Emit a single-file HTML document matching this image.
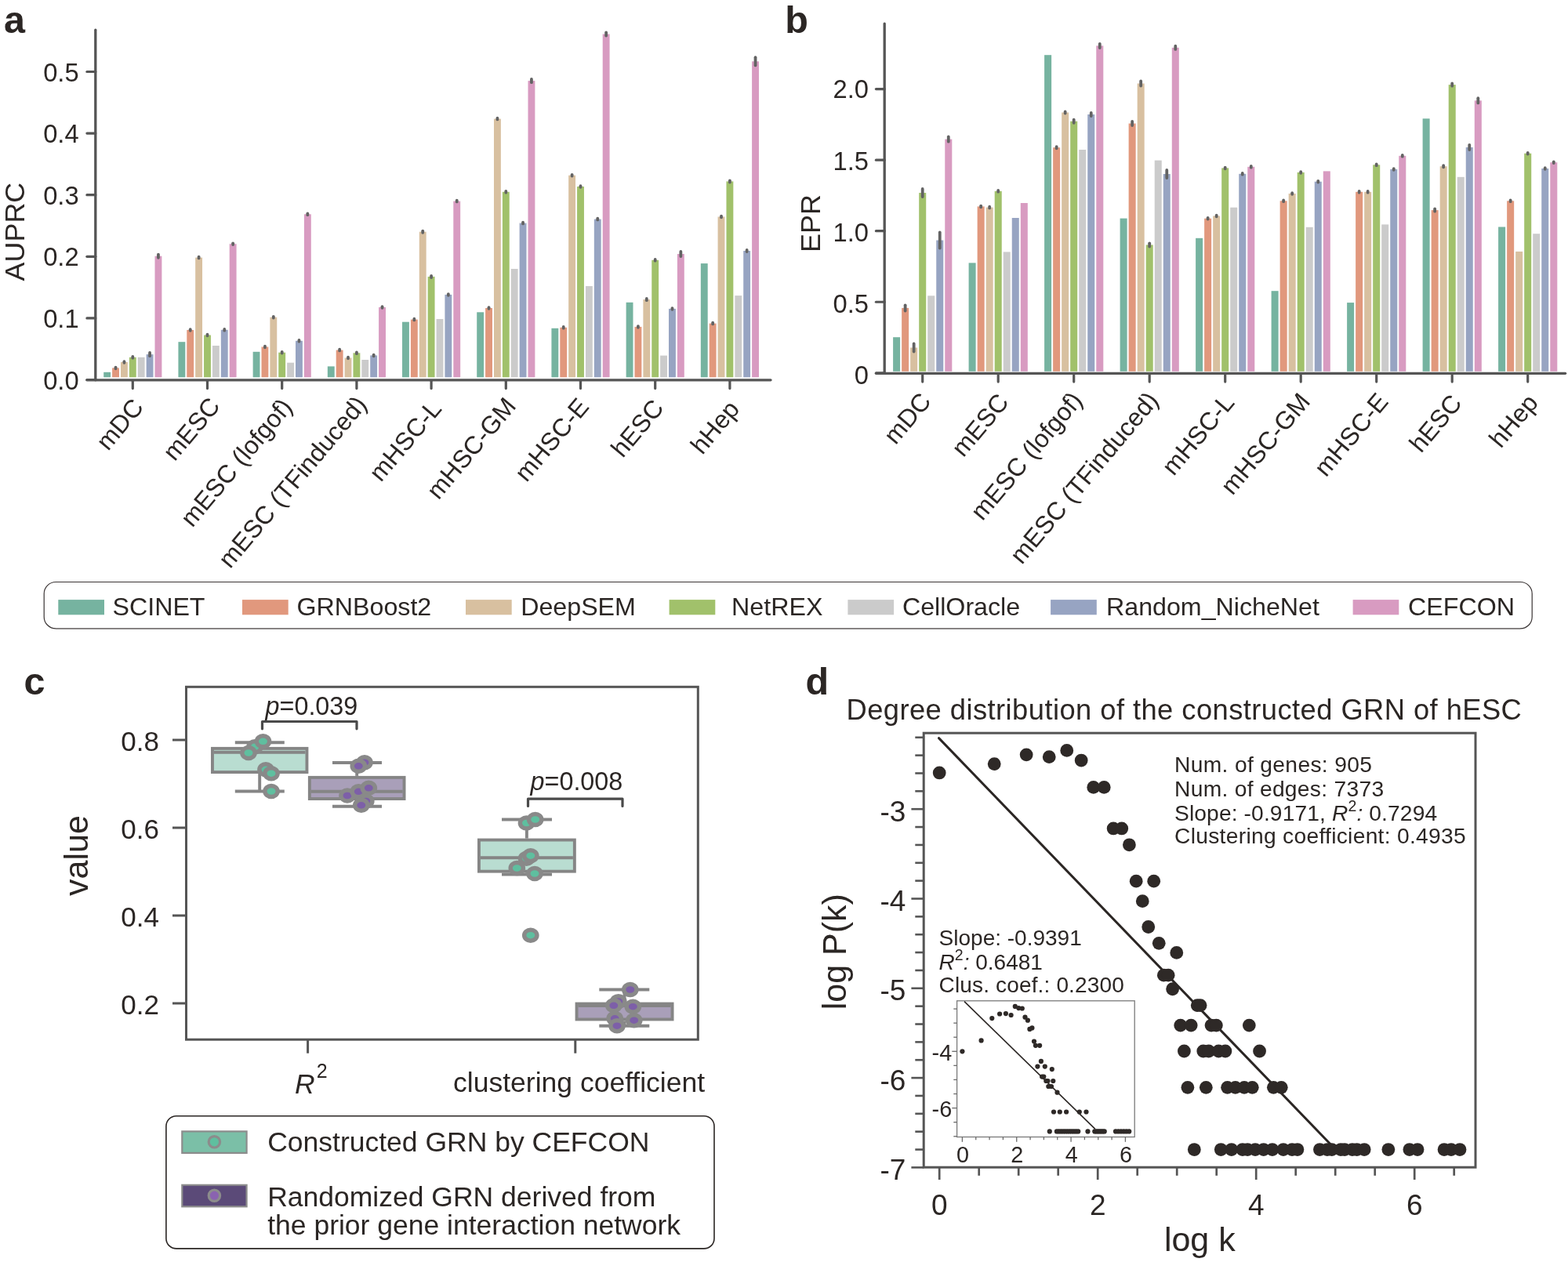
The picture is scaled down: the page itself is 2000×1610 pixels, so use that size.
<!DOCTYPE html>
<html><head><meta charset="utf-8"><title>Figure</title>
<style>html,body{margin:0;padding:0;background:#ffffff;} svg{display:block;}</style>
</head><body>
<svg width="2000" height="1610" viewBox="0 0 2000 1610" style="font-family:'Liberation Sans', Arial, Helvetica, sans-serif;">
<rect x="0" y="0" width="2000" height="1610" fill="#ffffff"/>
<rect x="132.22" y="474.8" width="8.88" height="6.5" fill="#76b3a0"/>
<rect x="143.1" y="469.4" width="8.88" height="11.9" fill="#e1987d"/>
<rect x="153.98" y="462" width="8.88" height="19.3" fill="#d8c0a0"/>
<rect x="164.86" y="455.8" width="8.88" height="25.5" fill="#a1c16b"/>
<rect x="175.74" y="455.8" width="8.88" height="25.5" fill="#cbcbcb"/>
<rect x="186.62" y="452.1" width="8.88" height="29.2" fill="#97a4c2"/>
<rect x="197.5" y="326.7" width="8.88" height="154.6" fill="#d89bc1"/>
<rect x="227.42" y="436.2" width="8.88" height="45.1" fill="#76b3a0"/>
<rect x="238.3" y="421" width="8.88" height="60.3" fill="#e1987d"/>
<rect x="249.18" y="328.6" width="8.88" height="152.7" fill="#d8c0a0"/>
<rect x="260.06" y="427.5" width="8.88" height="53.8" fill="#a1c16b"/>
<rect x="270.94" y="441" width="8.88" height="40.3" fill="#cbcbcb"/>
<rect x="281.82" y="420.8" width="8.88" height="60.5" fill="#97a4c2"/>
<rect x="292.7" y="311.2" width="8.88" height="170.1" fill="#d89bc1"/>
<rect x="322.62" y="448.8" width="8.88" height="32.5" fill="#76b3a0"/>
<rect x="333.5" y="442.5" width="8.88" height="38.8" fill="#e1987d"/>
<rect x="344.38" y="404.7" width="8.88" height="76.6" fill="#d8c0a0"/>
<rect x="355.26" y="449.7" width="8.88" height="31.6" fill="#a1c16b"/>
<rect x="366.14" y="462.7" width="8.88" height="18.6" fill="#cbcbcb"/>
<rect x="377.02" y="434.8" width="8.88" height="46.5" fill="#97a4c2"/>
<rect x="387.9" y="273.3" width="8.88" height="208" fill="#d89bc1"/>
<rect x="417.82" y="467.4" width="8.88" height="13.9" fill="#76b3a0"/>
<rect x="428.7" y="446.6" width="8.88" height="34.7" fill="#e1987d"/>
<rect x="439.58" y="456.5" width="8.88" height="24.8" fill="#d8c0a0"/>
<rect x="450.46" y="450.3" width="8.88" height="31" fill="#a1c16b"/>
<rect x="461.34" y="459" width="8.88" height="22.3" fill="#cbcbcb"/>
<rect x="472.22" y="453.4" width="8.88" height="27.9" fill="#97a4c2"/>
<rect x="483.1" y="392" width="8.88" height="89.3" fill="#d89bc1"/>
<rect x="513.02" y="410.7" width="8.88" height="70.6" fill="#76b3a0"/>
<rect x="523.9" y="407.6" width="8.88" height="73.7" fill="#e1987d"/>
<rect x="534.78" y="295.7" width="8.88" height="185.6" fill="#d8c0a0"/>
<rect x="545.66" y="352.9" width="8.88" height="128.4" fill="#a1c16b"/>
<rect x="556.54" y="407" width="8.88" height="74.3" fill="#cbcbcb"/>
<rect x="567.42" y="375.9" width="8.88" height="105.4" fill="#97a4c2"/>
<rect x="578.3" y="256.6" width="8.88" height="224.7" fill="#d89bc1"/>
<rect x="608.22" y="398.3" width="8.88" height="83" fill="#76b3a0"/>
<rect x="619.1" y="393" width="8.88" height="88.3" fill="#e1987d"/>
<rect x="629.98" y="151.6" width="8.88" height="329.7" fill="#d8c0a0"/>
<rect x="640.86" y="244.8" width="8.88" height="236.5" fill="#a1c16b"/>
<rect x="651.74" y="343" width="8.88" height="138.3" fill="#cbcbcb"/>
<rect x="662.62" y="284.6" width="8.88" height="196.7" fill="#97a4c2"/>
<rect x="673.5" y="103.1" width="8.88" height="378.2" fill="#d89bc1"/>
<rect x="703.42" y="418.8" width="8.88" height="62.5" fill="#76b3a0"/>
<rect x="714.3" y="417.8" width="8.88" height="63.5" fill="#e1987d"/>
<rect x="725.18" y="223.7" width="8.88" height="257.6" fill="#d8c0a0"/>
<rect x="736.06" y="238" width="8.88" height="243.3" fill="#a1c16b"/>
<rect x="746.94" y="365" width="8.88" height="116.3" fill="#cbcbcb"/>
<rect x="757.82" y="279.6" width="8.88" height="201.7" fill="#97a4c2"/>
<rect x="768.7" y="43.5" width="8.88" height="437.8" fill="#d89bc1"/>
<rect x="798.62" y="385.8" width="8.88" height="95.5" fill="#76b3a0"/>
<rect x="809.5" y="416.9" width="8.88" height="64.4" fill="#e1987d"/>
<rect x="820.38" y="382.1" width="8.88" height="99.2" fill="#d8c0a0"/>
<rect x="831.26" y="331.8" width="8.88" height="149.5" fill="#a1c16b"/>
<rect x="842.14" y="453.6" width="8.88" height="27.7" fill="#cbcbcb"/>
<rect x="853.02" y="393.9" width="8.88" height="87.4" fill="#97a4c2"/>
<rect x="863.9" y="324" width="8.88" height="157.3" fill="#d89bc1"/>
<rect x="893.82" y="336.1" width="8.88" height="145.2" fill="#76b3a0"/>
<rect x="904.7" y="412.6" width="8.88" height="68.7" fill="#e1987d"/>
<rect x="915.58" y="276.5" width="8.88" height="204.8" fill="#d8c0a0"/>
<rect x="926.46" y="231.4" width="8.88" height="249.9" fill="#a1c16b"/>
<rect x="937.34" y="377.1" width="8.88" height="104.2" fill="#cbcbcb"/>
<rect x="948.22" y="320" width="8.88" height="161.3" fill="#97a4c2"/>
<rect x="959.1" y="78.3" width="8.88" height="403" fill="#d89bc1"/>
<line x1="147.54" y1="468.55" x2="147.54" y2="470.25" stroke="#636363" stroke-width="3.8" stroke-linecap="round"/>
<line x1="158.42" y1="461.15" x2="158.42" y2="462.85" stroke="#636363" stroke-width="3.8" stroke-linecap="round"/>
<line x1="169.3" y1="454.95" x2="169.3" y2="456.65" stroke="#636363" stroke-width="3.8" stroke-linecap="round"/>
<line x1="191.06" y1="450" x2="191.06" y2="454.2" stroke="#636363" stroke-width="3.8" stroke-linecap="round"/>
<line x1="201.94" y1="324.6" x2="201.94" y2="328.8" stroke="#636363" stroke-width="3.8" stroke-linecap="round"/>
<line x1="242.74" y1="420.15" x2="242.74" y2="421.85" stroke="#636363" stroke-width="3.8" stroke-linecap="round"/>
<line x1="253.62" y1="327.75" x2="253.62" y2="329.45" stroke="#636363" stroke-width="3.8" stroke-linecap="round"/>
<line x1="264.5" y1="426.65" x2="264.5" y2="428.35" stroke="#636363" stroke-width="3.8" stroke-linecap="round"/>
<line x1="286.26" y1="419.95" x2="286.26" y2="421.65" stroke="#636363" stroke-width="3.8" stroke-linecap="round"/>
<line x1="297.14" y1="310.35" x2="297.14" y2="312.05" stroke="#636363" stroke-width="3.8" stroke-linecap="round"/>
<line x1="337.94" y1="441.65" x2="337.94" y2="443.35" stroke="#636363" stroke-width="3.8" stroke-linecap="round"/>
<line x1="348.82" y1="403.85" x2="348.82" y2="405.55" stroke="#636363" stroke-width="3.8" stroke-linecap="round"/>
<line x1="359.7" y1="448.85" x2="359.7" y2="450.55" stroke="#636363" stroke-width="3.8" stroke-linecap="round"/>
<line x1="381.46" y1="433.95" x2="381.46" y2="435.65" stroke="#636363" stroke-width="3.8" stroke-linecap="round"/>
<line x1="392.34" y1="272.45" x2="392.34" y2="274.15" stroke="#636363" stroke-width="3.8" stroke-linecap="round"/>
<line x1="433.14" y1="445.75" x2="433.14" y2="447.45" stroke="#636363" stroke-width="3.8" stroke-linecap="round"/>
<line x1="444.02" y1="455.65" x2="444.02" y2="457.35" stroke="#636363" stroke-width="3.8" stroke-linecap="round"/>
<line x1="454.9" y1="449.45" x2="454.9" y2="451.15" stroke="#636363" stroke-width="3.8" stroke-linecap="round"/>
<line x1="476.66" y1="452.55" x2="476.66" y2="454.25" stroke="#636363" stroke-width="3.8" stroke-linecap="round"/>
<line x1="487.54" y1="391.15" x2="487.54" y2="392.85" stroke="#636363" stroke-width="3.8" stroke-linecap="round"/>
<line x1="528.34" y1="406.75" x2="528.34" y2="408.45" stroke="#636363" stroke-width="3.8" stroke-linecap="round"/>
<line x1="539.22" y1="294.6" x2="539.22" y2="296.8" stroke="#636363" stroke-width="3.8" stroke-linecap="round"/>
<line x1="550.1" y1="351.8" x2="550.1" y2="354" stroke="#636363" stroke-width="3.8" stroke-linecap="round"/>
<line x1="571.86" y1="375.05" x2="571.86" y2="376.75" stroke="#636363" stroke-width="3.8" stroke-linecap="round"/>
<line x1="582.74" y1="255.75" x2="582.74" y2="257.45" stroke="#636363" stroke-width="3.8" stroke-linecap="round"/>
<line x1="623.54" y1="392.15" x2="623.54" y2="393.85" stroke="#636363" stroke-width="3.8" stroke-linecap="round"/>
<line x1="634.42" y1="150.75" x2="634.42" y2="152.45" stroke="#636363" stroke-width="3.8" stroke-linecap="round"/>
<line x1="645.3" y1="243.95" x2="645.3" y2="245.65" stroke="#636363" stroke-width="3.8" stroke-linecap="round"/>
<line x1="667.06" y1="283.75" x2="667.06" y2="285.45" stroke="#636363" stroke-width="3.8" stroke-linecap="round"/>
<line x1="677.94" y1="101" x2="677.94" y2="105.2" stroke="#636363" stroke-width="3.8" stroke-linecap="round"/>
<line x1="718.74" y1="416.95" x2="718.74" y2="418.65" stroke="#636363" stroke-width="3.8" stroke-linecap="round"/>
<line x1="729.62" y1="222.85" x2="729.62" y2="224.55" stroke="#636363" stroke-width="3.8" stroke-linecap="round"/>
<line x1="740.5" y1="237.15" x2="740.5" y2="238.85" stroke="#636363" stroke-width="3.8" stroke-linecap="round"/>
<line x1="762.26" y1="278.75" x2="762.26" y2="280.45" stroke="#636363" stroke-width="3.8" stroke-linecap="round"/>
<line x1="773.14" y1="41.4" x2="773.14" y2="45.6" stroke="#636363" stroke-width="3.8" stroke-linecap="round"/>
<line x1="813.94" y1="416.05" x2="813.94" y2="417.75" stroke="#636363" stroke-width="3.8" stroke-linecap="round"/>
<line x1="824.82" y1="381" x2="824.82" y2="383.2" stroke="#636363" stroke-width="3.8" stroke-linecap="round"/>
<line x1="835.7" y1="330.95" x2="835.7" y2="332.65" stroke="#636363" stroke-width="3.8" stroke-linecap="round"/>
<line x1="857.46" y1="393.05" x2="857.46" y2="394.75" stroke="#636363" stroke-width="3.8" stroke-linecap="round"/>
<line x1="868.34" y1="320.9" x2="868.34" y2="327.1" stroke="#636363" stroke-width="3.8" stroke-linecap="round"/>
<line x1="909.14" y1="411.75" x2="909.14" y2="413.45" stroke="#636363" stroke-width="3.8" stroke-linecap="round"/>
<line x1="920.02" y1="275.65" x2="920.02" y2="277.35" stroke="#636363" stroke-width="3.8" stroke-linecap="round"/>
<line x1="930.9" y1="230.3" x2="930.9" y2="232.5" stroke="#636363" stroke-width="3.8" stroke-linecap="round"/>
<line x1="952.66" y1="318.9" x2="952.66" y2="321.1" stroke="#636363" stroke-width="3.8" stroke-linecap="round"/>
<line x1="963.54" y1="73.2" x2="963.54" y2="83.4" stroke="#636363" stroke-width="3.8" stroke-linecap="round"/>
<line x1="121.8" y1="38.2" x2="121.8" y2="484.8" stroke="#555555" stroke-width="3.3" stroke-linecap="round"/>
<line x1="110.9" y1="484.8" x2="983" y2="484.8" stroke="#555555" stroke-width="3.3" stroke-linecap="round"/>
<line x1="110.9" y1="484.5" x2="121.8" y2="484.5" stroke="#555555" stroke-width="3.2" stroke-linecap="round"/>
<text x="100.6" y="496.5" text-anchor="end" style="font-size:32.7px;" fill="#2b2624">0.0</text>
<line x1="110.9" y1="405.9" x2="121.8" y2="405.9" stroke="#555555" stroke-width="3.2" stroke-linecap="round"/>
<text x="100.6" y="417.9" text-anchor="end" style="font-size:32.7px;" fill="#2b2624">0.1</text>
<line x1="110.9" y1="327.3" x2="121.8" y2="327.3" stroke="#555555" stroke-width="3.2" stroke-linecap="round"/>
<text x="100.6" y="339.3" text-anchor="end" style="font-size:32.7px;" fill="#2b2624">0.2</text>
<line x1="110.9" y1="248.7" x2="121.8" y2="248.7" stroke="#555555" stroke-width="3.2" stroke-linecap="round"/>
<text x="100.6" y="260.7" text-anchor="end" style="font-size:32.7px;" fill="#2b2624">0.3</text>
<line x1="110.9" y1="170.1" x2="121.8" y2="170.1" stroke="#555555" stroke-width="3.2" stroke-linecap="round"/>
<text x="100.6" y="182.1" text-anchor="end" style="font-size:32.7px;" fill="#2b2624">0.4</text>
<line x1="110.9" y1="91.5" x2="121.8" y2="91.5" stroke="#555555" stroke-width="3.2" stroke-linecap="round"/>
<text x="100.6" y="103.5" text-anchor="end" style="font-size:32.7px;" fill="#2b2624">0.5</text>
<line x1="169.3" y1="486.3" x2="169.3" y2="495.6" stroke="#555555" stroke-width="3.2" stroke-linecap="round"/>
<text transform="translate(184.5,520.3) rotate(-50)" text-anchor="end" style="font-size:32px;" fill="#2b2624">mDC</text>
<line x1="264.5" y1="486.3" x2="264.5" y2="495.6" stroke="#555555" stroke-width="3.2" stroke-linecap="round"/>
<text transform="translate(282.2,518.8) rotate(-50)" text-anchor="end" style="font-size:32px;" fill="#2b2624">mESC</text>
<line x1="359.7" y1="486.3" x2="359.7" y2="495.6" stroke="#555555" stroke-width="3.2" stroke-linecap="round"/>
<text transform="translate(374.3,520.1) rotate(-50)" text-anchor="end" style="font-size:32px;" fill="#2b2624">mESC (lofgof)</text>
<line x1="454.9" y1="486.3" x2="454.9" y2="495.6" stroke="#555555" stroke-width="3.2" stroke-linecap="round"/>
<text transform="translate(469.4,516.8) rotate(-50)" text-anchor="end" style="font-size:32px;" fill="#2b2624">mESC (TFinduced)</text>
<line x1="550.1" y1="486.3" x2="550.1" y2="495.6" stroke="#555555" stroke-width="3.2" stroke-linecap="round"/>
<text transform="translate(564.7,522.1) rotate(-50)" text-anchor="end" style="font-size:32px;" fill="#2b2624">mHSC-L</text>
<line x1="645.3" y1="486.3" x2="645.3" y2="495.6" stroke="#555555" stroke-width="3.2" stroke-linecap="round"/>
<text transform="translate(659.7,518.9) rotate(-50)" text-anchor="end" style="font-size:32px;" fill="#2b2624">mHSC-GM</text>
<line x1="740.5" y1="486.3" x2="740.5" y2="495.6" stroke="#555555" stroke-width="3.2" stroke-linecap="round"/>
<text transform="translate(752.7,519.6) rotate(-50)" text-anchor="end" style="font-size:32px;" fill="#2b2624">mHSC-E</text>
<line x1="835.7" y1="486.3" x2="835.7" y2="495.6" stroke="#555555" stroke-width="3.2" stroke-linecap="round"/>
<text transform="translate(848.1,521.3) rotate(-50)" text-anchor="end" style="font-size:32px;" fill="#2b2624">hESC</text>
<line x1="930.9" y1="486.3" x2="930.9" y2="495.6" stroke="#555555" stroke-width="3.2" stroke-linecap="round"/>
<text transform="translate(944.8,522.6) rotate(-50)" text-anchor="end" style="font-size:32px;" fill="#2b2624">hHep</text>
<text transform="translate(31.2,295.6) rotate(-90)" text-anchor="middle" style="font-size:35.9px;" fill="#2b2624">AUPRC</text>
<text x="5" y="42.3" style="font-size:48.5px;font-weight:bold;" fill="#2b2624">a</text>
<rect x="1139.1" y="430.2" width="9.03" height="43.6" fill="#76b3a0"/>
<rect x="1150.13" y="392.9" width="9.03" height="80.9" fill="#e1987d"/>
<rect x="1161.16" y="443.5" width="9.03" height="30.3" fill="#d8c0a0"/>
<rect x="1172.19" y="246" width="9.03" height="227.8" fill="#a1c16b"/>
<rect x="1183.21" y="377.3" width="9.03" height="96.5" fill="#cbcbcb"/>
<rect x="1194.24" y="306.5" width="9.03" height="167.3" fill="#97a4c2"/>
<rect x="1205.27" y="177.6" width="9.03" height="296.2" fill="#d89bc1"/>
<rect x="1235.6" y="335.4" width="9.03" height="138.4" fill="#76b3a0"/>
<rect x="1246.63" y="263.4" width="9.03" height="210.4" fill="#e1987d"/>
<rect x="1257.66" y="264.6" width="9.03" height="209.2" fill="#d8c0a0"/>
<rect x="1268.69" y="243.8" width="9.03" height="230" fill="#a1c16b"/>
<rect x="1279.71" y="321.4" width="9.03" height="152.4" fill="#cbcbcb"/>
<rect x="1290.74" y="278" width="9.03" height="195.8" fill="#97a4c2"/>
<rect x="1301.77" y="259" width="9.03" height="214.8" fill="#d89bc1"/>
<rect x="1332.1" y="70.2" width="9.03" height="403.6" fill="#76b3a0"/>
<rect x="1343.13" y="188.2" width="9.03" height="285.6" fill="#e1987d"/>
<rect x="1354.16" y="143.5" width="9.03" height="330.3" fill="#d8c0a0"/>
<rect x="1365.19" y="154.7" width="9.03" height="319.1" fill="#a1c16b"/>
<rect x="1376.21" y="191" width="9.03" height="282.8" fill="#cbcbcb"/>
<rect x="1387.24" y="146" width="9.03" height="327.8" fill="#97a4c2"/>
<rect x="1398.27" y="58.4" width="9.03" height="415.4" fill="#d89bc1"/>
<rect x="1428.6" y="278.6" width="9.03" height="195.2" fill="#76b3a0"/>
<rect x="1439.63" y="157.5" width="9.03" height="316.3" fill="#e1987d"/>
<rect x="1450.66" y="106.5" width="9.03" height="367.3" fill="#d8c0a0"/>
<rect x="1461.69" y="312.4" width="9.03" height="161.4" fill="#a1c16b"/>
<rect x="1472.71" y="204.6" width="9.03" height="269.2" fill="#cbcbcb"/>
<rect x="1483.74" y="222" width="9.03" height="251.8" fill="#97a4c2"/>
<rect x="1494.77" y="60.8" width="9.03" height="413" fill="#d89bc1"/>
<rect x="1525.1" y="303.8" width="9.03" height="170" fill="#76b3a0"/>
<rect x="1536.13" y="278.7" width="9.03" height="195.1" fill="#e1987d"/>
<rect x="1547.16" y="275.5" width="9.03" height="198.3" fill="#d8c0a0"/>
<rect x="1558.19" y="214.4" width="9.03" height="259.4" fill="#a1c16b"/>
<rect x="1569.21" y="264.7" width="9.03" height="209.1" fill="#cbcbcb"/>
<rect x="1580.24" y="221.8" width="9.03" height="252" fill="#97a4c2"/>
<rect x="1591.27" y="212.8" width="9.03" height="261" fill="#d89bc1"/>
<rect x="1621.6" y="371.2" width="9.03" height="102.6" fill="#76b3a0"/>
<rect x="1632.63" y="256.3" width="9.03" height="217.5" fill="#e1987d"/>
<rect x="1643.66" y="247" width="9.03" height="226.8" fill="#d8c0a0"/>
<rect x="1654.69" y="219.9" width="9.03" height="253.9" fill="#a1c16b"/>
<rect x="1665.71" y="289.8" width="9.03" height="184" fill="#cbcbcb"/>
<rect x="1676.74" y="231.7" width="9.03" height="242.1" fill="#97a4c2"/>
<rect x="1687.77" y="218.4" width="9.03" height="255.4" fill="#d89bc1"/>
<rect x="1718.1" y="386.1" width="9.03" height="87.7" fill="#76b3a0"/>
<rect x="1729.13" y="244.8" width="9.03" height="229" fill="#e1987d"/>
<rect x="1740.16" y="244.8" width="9.03" height="229" fill="#d8c0a0"/>
<rect x="1751.19" y="210.3" width="9.03" height="263.5" fill="#a1c16b"/>
<rect x="1762.21" y="286.4" width="9.03" height="187.4" fill="#cbcbcb"/>
<rect x="1773.24" y="215.9" width="9.03" height="257.9" fill="#97a4c2"/>
<rect x="1784.27" y="198.8" width="9.03" height="275" fill="#d89bc1"/>
<rect x="1814.6" y="151.3" width="9.03" height="322.5" fill="#76b3a0"/>
<rect x="1825.63" y="268.1" width="9.03" height="205.7" fill="#e1987d"/>
<rect x="1836.66" y="212.2" width="9.03" height="261.6" fill="#d8c0a0"/>
<rect x="1847.69" y="108.1" width="9.03" height="365.7" fill="#a1c16b"/>
<rect x="1858.71" y="225.8" width="9.03" height="248" fill="#cbcbcb"/>
<rect x="1869.74" y="187.9" width="9.03" height="285.9" fill="#97a4c2"/>
<rect x="1880.77" y="128.3" width="9.03" height="345.5" fill="#d89bc1"/>
<rect x="1911.1" y="289.5" width="9.03" height="184.3" fill="#76b3a0"/>
<rect x="1922.13" y="256.3" width="9.03" height="217.5" fill="#e1987d"/>
<rect x="1933.16" y="320.9" width="9.03" height="152.9" fill="#d8c0a0"/>
<rect x="1944.19" y="195.7" width="9.03" height="278.1" fill="#a1c16b"/>
<rect x="1955.21" y="298.2" width="9.03" height="175.6" fill="#cbcbcb"/>
<rect x="1966.24" y="215" width="9.03" height="258.8" fill="#97a4c2"/>
<rect x="1977.27" y="207.2" width="9.03" height="266.6" fill="#d89bc1"/>
<line x1="1154.64" y1="389.3" x2="1154.64" y2="396.5" stroke="#636363" stroke-width="3.8" stroke-linecap="round"/>
<line x1="1165.67" y1="438.4" x2="1165.67" y2="448.6" stroke="#636363" stroke-width="3.8" stroke-linecap="round"/>
<line x1="1176.7" y1="240.9" x2="1176.7" y2="251.1" stroke="#636363" stroke-width="3.8" stroke-linecap="round"/>
<line x1="1198.76" y1="296.4" x2="1198.76" y2="316.6" stroke="#636363" stroke-width="3.8" stroke-linecap="round"/>
<line x1="1209.79" y1="174.5" x2="1209.79" y2="180.7" stroke="#636363" stroke-width="3.8" stroke-linecap="round"/>
<line x1="1251.14" y1="262.55" x2="1251.14" y2="264.25" stroke="#636363" stroke-width="3.8" stroke-linecap="round"/>
<line x1="1262.17" y1="263.75" x2="1262.17" y2="265.45" stroke="#636363" stroke-width="3.8" stroke-linecap="round"/>
<line x1="1273.2" y1="242.95" x2="1273.2" y2="244.65" stroke="#636363" stroke-width="3.8" stroke-linecap="round"/>
<line x1="1347.64" y1="187.1" x2="1347.64" y2="189.3" stroke="#636363" stroke-width="3.8" stroke-linecap="round"/>
<line x1="1358.67" y1="142.4" x2="1358.67" y2="144.6" stroke="#636363" stroke-width="3.8" stroke-linecap="round"/>
<line x1="1369.7" y1="152.6" x2="1369.7" y2="156.8" stroke="#636363" stroke-width="3.8" stroke-linecap="round"/>
<line x1="1391.76" y1="143.9" x2="1391.76" y2="148.1" stroke="#636363" stroke-width="3.8" stroke-linecap="round"/>
<line x1="1402.79" y1="55.8" x2="1402.79" y2="61" stroke="#636363" stroke-width="3.8" stroke-linecap="round"/>
<line x1="1444.14" y1="154.9" x2="1444.14" y2="160.1" stroke="#636363" stroke-width="3.8" stroke-linecap="round"/>
<line x1="1455.17" y1="103.4" x2="1455.17" y2="109.6" stroke="#636363" stroke-width="3.8" stroke-linecap="round"/>
<line x1="1466.2" y1="310.3" x2="1466.2" y2="314.5" stroke="#636363" stroke-width="3.8" stroke-linecap="round"/>
<line x1="1488.26" y1="216.9" x2="1488.26" y2="227.1" stroke="#636363" stroke-width="3.8" stroke-linecap="round"/>
<line x1="1499.29" y1="58.7" x2="1499.29" y2="62.9" stroke="#636363" stroke-width="3.8" stroke-linecap="round"/>
<line x1="1540.64" y1="277.85" x2="1540.64" y2="279.55" stroke="#636363" stroke-width="3.8" stroke-linecap="round"/>
<line x1="1551.67" y1="274.65" x2="1551.67" y2="276.35" stroke="#636363" stroke-width="3.8" stroke-linecap="round"/>
<line x1="1562.7" y1="213.55" x2="1562.7" y2="215.25" stroke="#636363" stroke-width="3.8" stroke-linecap="round"/>
<line x1="1584.76" y1="220.95" x2="1584.76" y2="222.65" stroke="#636363" stroke-width="3.8" stroke-linecap="round"/>
<line x1="1595.79" y1="211.95" x2="1595.79" y2="213.65" stroke="#636363" stroke-width="3.8" stroke-linecap="round"/>
<line x1="1637.14" y1="255.45" x2="1637.14" y2="257.15" stroke="#636363" stroke-width="3.8" stroke-linecap="round"/>
<line x1="1648.17" y1="246.15" x2="1648.17" y2="247.85" stroke="#636363" stroke-width="3.8" stroke-linecap="round"/>
<line x1="1659.2" y1="219.05" x2="1659.2" y2="220.75" stroke="#636363" stroke-width="3.8" stroke-linecap="round"/>
<line x1="1681.26" y1="230.85" x2="1681.26" y2="232.55" stroke="#636363" stroke-width="3.8" stroke-linecap="round"/>
<line x1="1733.64" y1="243.95" x2="1733.64" y2="245.65" stroke="#636363" stroke-width="3.8" stroke-linecap="round"/>
<line x1="1744.67" y1="243.95" x2="1744.67" y2="245.65" stroke="#636363" stroke-width="3.8" stroke-linecap="round"/>
<line x1="1755.7" y1="209.45" x2="1755.7" y2="211.15" stroke="#636363" stroke-width="3.8" stroke-linecap="round"/>
<line x1="1777.76" y1="215.05" x2="1777.76" y2="216.75" stroke="#636363" stroke-width="3.8" stroke-linecap="round"/>
<line x1="1788.79" y1="197.95" x2="1788.79" y2="199.65" stroke="#636363" stroke-width="3.8" stroke-linecap="round"/>
<line x1="1830.14" y1="266.5" x2="1830.14" y2="269.7" stroke="#636363" stroke-width="3.8" stroke-linecap="round"/>
<line x1="1841.17" y1="211.1" x2="1841.17" y2="213.3" stroke="#636363" stroke-width="3.8" stroke-linecap="round"/>
<line x1="1852.2" y1="106.5" x2="1852.2" y2="109.7" stroke="#636363" stroke-width="3.8" stroke-linecap="round"/>
<line x1="1874.26" y1="184.8" x2="1874.26" y2="191" stroke="#636363" stroke-width="3.8" stroke-linecap="round"/>
<line x1="1885.29" y1="125.2" x2="1885.29" y2="131.4" stroke="#636363" stroke-width="3.8" stroke-linecap="round"/>
<line x1="1926.64" y1="255.45" x2="1926.64" y2="257.15" stroke="#636363" stroke-width="3.8" stroke-linecap="round"/>
<line x1="1948.7" y1="194.85" x2="1948.7" y2="196.55" stroke="#636363" stroke-width="3.8" stroke-linecap="round"/>
<line x1="1970.76" y1="214.15" x2="1970.76" y2="215.85" stroke="#636363" stroke-width="3.8" stroke-linecap="round"/>
<line x1="1981.79" y1="206.35" x2="1981.79" y2="208.05" stroke="#636363" stroke-width="3.8" stroke-linecap="round"/>
<line x1="1128.2" y1="30.1" x2="1128.2" y2="476.3" stroke="#555555" stroke-width="3.3" stroke-linecap="round"/>
<line x1="1117.4" y1="476.3" x2="1996.6" y2="476.3" stroke="#555555" stroke-width="3.3" stroke-linecap="round"/>
<line x1="1117.4" y1="475.8" x2="1128.2" y2="475.8" stroke="#555555" stroke-width="3.2" stroke-linecap="round"/>
<text x="1108" y="489.7" text-anchor="end" style="font-size:32.7px;" fill="#2b2624">0</text>
<line x1="1117.4" y1="385.25" x2="1128.2" y2="385.25" stroke="#555555" stroke-width="3.2" stroke-linecap="round"/>
<text x="1108" y="398.85" text-anchor="end" style="font-size:32.7px;" fill="#2b2624">0.5</text>
<line x1="1117.4" y1="294.7" x2="1128.2" y2="294.7" stroke="#555555" stroke-width="3.2" stroke-linecap="round"/>
<text x="1108" y="308" text-anchor="end" style="font-size:32.7px;" fill="#2b2624">1.0</text>
<line x1="1117.4" y1="204.15" x2="1128.2" y2="204.15" stroke="#555555" stroke-width="3.2" stroke-linecap="round"/>
<text x="1108" y="217.15" text-anchor="end" style="font-size:32.7px;" fill="#2b2624">1.5</text>
<line x1="1117.4" y1="113.6" x2="1128.2" y2="113.6" stroke="#555555" stroke-width="3.2" stroke-linecap="round"/>
<text x="1108" y="124.7" text-anchor="end" style="font-size:32.7px;" fill="#2b2624">2.0</text>
<line x1="1176.7" y1="477.8" x2="1176.7" y2="487.1" stroke="#555555" stroke-width="3.2" stroke-linecap="round"/>
<text transform="translate(1189.2,512.7) rotate(-50)" text-anchor="end" style="font-size:32px;" fill="#2b2624">mDC</text>
<line x1="1273.2" y1="477.8" x2="1273.2" y2="487.1" stroke="#555555" stroke-width="3.2" stroke-linecap="round"/>
<text transform="translate(1288.2,513.8) rotate(-50)" text-anchor="end" style="font-size:32px;" fill="#2b2624">mESC</text>
<line x1="1369.7" y1="477.8" x2="1369.7" y2="487.1" stroke="#555555" stroke-width="3.2" stroke-linecap="round"/>
<text transform="translate(1382.2,511.5) rotate(-50)" text-anchor="end" style="font-size:32px;" fill="#2b2624">mESC (lofgof)</text>
<line x1="1466.2" y1="477.8" x2="1466.2" y2="487.1" stroke="#555555" stroke-width="3.2" stroke-linecap="round"/>
<text transform="translate(1479.2,511.5) rotate(-50)" text-anchor="end" style="font-size:32px;" fill="#2b2624">mESC (TFinduced)</text>
<line x1="1562.7" y1="477.8" x2="1562.7" y2="487.1" stroke="#555555" stroke-width="3.2" stroke-linecap="round"/>
<text transform="translate(1575.9,514.3) rotate(-50)" text-anchor="end" style="font-size:32px;" fill="#2b2624">mHSC-L</text>
<line x1="1659.2" y1="477.8" x2="1659.2" y2="487.1" stroke="#555555" stroke-width="3.2" stroke-linecap="round"/>
<text transform="translate(1672.6,513.1) rotate(-50)" text-anchor="end" style="font-size:32px;" fill="#2b2624">mHSC-GM</text>
<line x1="1755.7" y1="477.8" x2="1755.7" y2="487.1" stroke="#555555" stroke-width="3.2" stroke-linecap="round"/>
<text transform="translate(1772.3,513.1) rotate(-50)" text-anchor="end" style="font-size:32px;" fill="#2b2624">mHSC-E</text>
<line x1="1852.2" y1="477.8" x2="1852.2" y2="487.1" stroke="#555555" stroke-width="3.2" stroke-linecap="round"/>
<text transform="translate(1866.2,515) rotate(-50)" text-anchor="end" style="font-size:32px;" fill="#2b2624">hESC</text>
<line x1="1948.7" y1="477.8" x2="1948.7" y2="487.1" stroke="#555555" stroke-width="3.2" stroke-linecap="round"/>
<text transform="translate(1963.5,514.5) rotate(-50)" text-anchor="end" style="font-size:32px;" fill="#2b2624">hHep</text>
<text transform="translate(1046,285) rotate(-90)" text-anchor="middle" style="font-size:35.9px;" fill="#2b2624">EPR</text>
<text x="1001.3" y="42.4" style="font-size:48.5px;font-weight:bold;" fill="#2b2624">b</text>
<rect x="56.2" y="742.5" width="1898" height="59.4" fill="none" stroke="#3a3434" stroke-width="1.2" rx="15"/>
<line x1="71" y1="801.9" x2="1939" y2="801.9" stroke="#8a8686" stroke-width="1.5" stroke-linecap="butt"/>
<rect x="74.3" y="765.1" width="58.7" height="19.2" fill="#76b3a0"/>
<text x="143.5" y="785.4" style="font-size:32.2px;" fill="#2b2624">SCINET</text>
<rect x="309" y="765.1" width="58.7" height="19.2" fill="#e1987d"/>
<text x="378.5" y="785.4" style="font-size:32.2px;" fill="#2b2624">GRNBoost2</text>
<rect x="594" y="765.1" width="58.7" height="19.2" fill="#d8c0a0"/>
<text x="664.2" y="785.4" style="font-size:32.2px;" fill="#2b2624">DeepSEM</text>
<rect x="853.6" y="765.1" width="58.7" height="19.2" fill="#a1c16b"/>
<text x="933.1" y="785.4" style="font-size:32.2px;" fill="#2b2624">NetREX</text>
<rect x="1081.4" y="765.1" width="58.7" height="19.2" fill="#cbcbcb"/>
<text x="1150.9" y="785.4" style="font-size:32.2px;" fill="#2b2624">CellOracle</text>
<rect x="1340.1" y="765.1" width="58.7" height="19.2" fill="#97a4c2"/>
<text x="1411" y="785.4" style="font-size:32.2px;" fill="#2b2624">Random_NicheNet</text>
<rect x="1725.6" y="765.1" width="58.7" height="19.2" fill="#d89bc1"/>
<text x="1796.1" y="785.4" style="font-size:32.2px;" fill="#2b2624">CEFCON</text>
<text x="30.5" y="885.6" style="font-size:48.5px;font-weight:bold;" fill="#2b2624">c</text>
<text transform="translate(112.1,1091.5) rotate(-90)" text-anchor="middle" style="font-size:43px;" fill="#2b2624">value</text>
<line x1="331.2" y1="947.2" x2="331.2" y2="952.9" stroke="#858585" stroke-width="3.9" stroke-linecap="butt"/>
<line x1="331.2" y1="987" x2="331.2" y2="1009.5" stroke="#858585" stroke-width="3.9" stroke-linecap="butt"/>
<line x1="299.8" y1="947.2" x2="362.8" y2="947.2" stroke="#858585" stroke-width="3.9" stroke-linecap="butt"/>
<line x1="299.8" y1="1009.5" x2="362.8" y2="1009.5" stroke="#858585" stroke-width="3.9" stroke-linecap="butt"/>
<rect x="270.95" y="954.85" width="120.5" height="30.2" fill="#b9ddd1" stroke="#858585" stroke-width="3.9"/>
<line x1="272.9" y1="959.8" x2="389.5" y2="959.8" stroke="#858585" stroke-width="3.9" stroke-linecap="butt"/>
<line x1="455.2" y1="973" x2="455.2" y2="989.9" stroke="#858585" stroke-width="3.9" stroke-linecap="butt"/>
<line x1="455.2" y1="1021" x2="455.2" y2="1028.7" stroke="#858585" stroke-width="3.9" stroke-linecap="butt"/>
<line x1="424" y1="973" x2="487" y2="973" stroke="#858585" stroke-width="3.9" stroke-linecap="butt"/>
<line x1="424" y1="1028.7" x2="487" y2="1028.7" stroke="#858585" stroke-width="3.9" stroke-linecap="butt"/>
<rect x="394.85" y="991.85" width="120.7" height="27.2" fill="#a99fb9" stroke="#858585" stroke-width="3.9"/>
<line x1="396.8" y1="1009.7" x2="513.6" y2="1009.7" stroke="#858585" stroke-width="3.9" stroke-linecap="butt"/>
<line x1="671.9" y1="1045.5" x2="671.9" y2="1069.6" stroke="#858585" stroke-width="3.9" stroke-linecap="butt"/>
<line x1="671.9" y1="1113.6" x2="671.9" y2="1115.5" stroke="#858585" stroke-width="3.9" stroke-linecap="butt"/>
<line x1="640" y1="1045.5" x2="704" y2="1045.5" stroke="#858585" stroke-width="3.9" stroke-linecap="butt"/>
<line x1="640" y1="1115.5" x2="704" y2="1115.5" stroke="#858585" stroke-width="3.9" stroke-linecap="butt"/>
<rect x="610.95" y="1071.55" width="121.9" height="40.1" fill="#b9ddd1" stroke="#858585" stroke-width="3.9"/>
<line x1="612.9" y1="1094.3" x2="730.9" y2="1094.3" stroke="#858585" stroke-width="3.9" stroke-linecap="butt"/>
<line x1="796.55" y1="1262.5" x2="796.55" y2="1278.6" stroke="#858585" stroke-width="3.9" stroke-linecap="butt"/>
<line x1="796.55" y1="1302.4" x2="796.55" y2="1308.7" stroke="#858585" stroke-width="3.9" stroke-linecap="butt"/>
<line x1="764.3" y1="1262.5" x2="828.3" y2="1262.5" stroke="#858585" stroke-width="3.9" stroke-linecap="butt"/>
<line x1="764.3" y1="1308.7" x2="828.3" y2="1308.7" stroke="#858585" stroke-width="3.9" stroke-linecap="butt"/>
<rect x="735.55" y="1280.55" width="122" height="19.9" fill="#a99fb9" stroke="#858585" stroke-width="3.9"/>
<line x1="737.5" y1="1283" x2="855.6" y2="1283" stroke="#858585" stroke-width="3.9" stroke-linecap="butt"/>
<ellipse cx="325" cy="952.8" rx="8.15" ry="7.0" fill="#5fbf9f" stroke="#898989" stroke-width="5.4"/>
<ellipse cx="335.5" cy="945.8" rx="8.15" ry="7.0" fill="#5fbf9f" stroke="#898989" stroke-width="5.4"/>
<ellipse cx="317" cy="960.5" rx="8.15" ry="7.0" fill="#5fbf9f" stroke="#898989" stroke-width="5.4"/>
<ellipse cx="339" cy="981.8" rx="8.15" ry="7.0" fill="#5fbf9f" stroke="#898989" stroke-width="5.4"/>
<ellipse cx="346" cy="986.7" rx="8.15" ry="7.0" fill="#5fbf9f" stroke="#898989" stroke-width="5.4"/>
<ellipse cx="346" cy="1009.5" rx="8.15" ry="7.0" fill="#5fbf9f" stroke="#898989" stroke-width="5.4"/>
<ellipse cx="671.5" cy="1050" rx="8.15" ry="7.0" fill="#5fbf9f" stroke="#898989" stroke-width="5.4"/>
<ellipse cx="682.7" cy="1045.5" rx="8.15" ry="7.0" fill="#5fbf9f" stroke="#898989" stroke-width="5.4"/>
<ellipse cx="671.5" cy="1095.2" rx="8.15" ry="7.0" fill="#5fbf9f" stroke="#898989" stroke-width="5.4"/>
<ellipse cx="676.8" cy="1091.7" rx="8.15" ry="7.0" fill="#5fbf9f" stroke="#898989" stroke-width="5.4"/>
<ellipse cx="659.3" cy="1107.5" rx="8.15" ry="7.0" fill="#5fbf9f" stroke="#898989" stroke-width="5.4"/>
<ellipse cx="682" cy="1114.5" rx="8.15" ry="7.0" fill="#5fbf9f" stroke="#898989" stroke-width="5.4"/>
<ellipse cx="676.8" cy="1193.2" rx="8.15" ry="7.0" fill="#5fbf9f" stroke="#898989" stroke-width="5.4"/>
<ellipse cx="465" cy="972.7" rx="8.15" ry="7.0" fill="#7d5fa8" stroke="#898989" stroke-width="5.4"/>
<ellipse cx="457.3" cy="977.3" rx="8.15" ry="7.0" fill="#7d5fa8" stroke="#898989" stroke-width="5.4"/>
<ellipse cx="443" cy="1015" rx="8.15" ry="7.0" fill="#7d5fa8" stroke="#898989" stroke-width="5.4"/>
<ellipse cx="457.3" cy="1009.8" rx="8.15" ry="7.0" fill="#7d5fa8" stroke="#898989" stroke-width="5.4"/>
<ellipse cx="470.3" cy="1005.3" rx="8.15" ry="7.0" fill="#7d5fa8" stroke="#898989" stroke-width="5.4"/>
<ellipse cx="466.8" cy="1022" rx="8.15" ry="7.0" fill="#7d5fa8" stroke="#898989" stroke-width="5.4"/>
<ellipse cx="460.8" cy="1027.3" rx="8.15" ry="7.0" fill="#7d5fa8" stroke="#898989" stroke-width="5.4"/>
<ellipse cx="803.8" cy="1262.5" rx="8.15" ry="7.0" fill="#7d5fa8" stroke="#898989" stroke-width="5.4"/>
<ellipse cx="788.8" cy="1277.6" rx="8.15" ry="7.0" fill="#7d5fa8" stroke="#898989" stroke-width="5.4"/>
<ellipse cx="782.8" cy="1282.8" rx="8.15" ry="7.0" fill="#7d5fa8" stroke="#898989" stroke-width="5.4"/>
<ellipse cx="807.3" cy="1284.2" rx="8.15" ry="7.0" fill="#7d5fa8" stroke="#898989" stroke-width="5.4"/>
<ellipse cx="784.2" cy="1299.3" rx="8.15" ry="7.0" fill="#7d5fa8" stroke="#898989" stroke-width="5.4"/>
<ellipse cx="808.7" cy="1301.7" rx="8.15" ry="7.0" fill="#7d5fa8" stroke="#898989" stroke-width="5.4"/>
<ellipse cx="787" cy="1308.7" rx="8.15" ry="7.0" fill="#7d5fa8" stroke="#898989" stroke-width="5.4"/>
<rect x="237.5" y="876.3" width="652.8" height="449.9" fill="none" stroke="#555555" stroke-width="3"/>
<line x1="220" y1="944" x2="237.5" y2="944" stroke="#555555" stroke-width="3" stroke-linecap="butt"/>
<text x="203" y="957.6" text-anchor="end" style="font-size:35px;" fill="#2b2624">0.8</text>
<line x1="220" y1="1056" x2="237.5" y2="1056" stroke="#555555" stroke-width="3" stroke-linecap="butt"/>
<text x="203" y="1069.6" text-anchor="end" style="font-size:35px;" fill="#2b2624">0.6</text>
<line x1="220" y1="1168" x2="237.5" y2="1168" stroke="#555555" stroke-width="3" stroke-linecap="butt"/>
<text x="203" y="1181.6" text-anchor="end" style="font-size:35px;" fill="#2b2624">0.4</text>
<line x1="220" y1="1280" x2="237.5" y2="1280" stroke="#555555" stroke-width="3" stroke-linecap="butt"/>
<text x="203" y="1293.6" text-anchor="end" style="font-size:35px;" fill="#2b2624">0.2</text>
<line x1="392.6" y1="1326" x2="392.6" y2="1343.7" stroke="#555555" stroke-width="3" stroke-linecap="butt"/>
<line x1="733.8" y1="1326" x2="733.8" y2="1343.7" stroke="#555555" stroke-width="3" stroke-linecap="butt"/>
<text x="738.6" y="1393.3" text-anchor="middle" style="font-size:35.5px;" fill="#2b2624">clustering coefficient</text>
<text x="376" y="1395" style="font-size:35.5px;" fill="#2b2624"><tspan style="font-style:italic">R</tspan><tspan dx="2" dy="-20" style="font-size:25px">2</tspan></text>
<path d="M334.5,929.8 L334.5,920.5 L455,920.5 L455,929.8" fill="none" stroke="#4a4a4a" stroke-width="3.2" stroke-linecap="round" stroke-linejoin="round"/>
<path d="M673.5,1028.5 L673.5,1019.2 L794,1019.2 L794,1028.5" fill="none" stroke="#4a4a4a" stroke-width="3.2" stroke-linecap="round" stroke-linejoin="round"/>
<text x="338.6" y="911.8" style="font-size:32.3px;" fill="#2b2624"><tspan style="font-style:italic">p</tspan>=0.039</text>
<text x="676.6" y="1008.2" style="font-size:32.3px;" fill="#2b2624"><tspan style="font-style:italic">p</tspan>=0.008</text>
<rect x="211.9" y="1423.7" width="699.1" height="169.2" fill="none" stroke="#2b2624" stroke-width="1.6" rx="13"/>
<rect x="232.3" y="1443.4" width="82.3" height="27.5" fill="#7bbfa7" stroke="#8c8c8c" stroke-width="2.2"/>
<rect x="232.3" y="1511.8" width="82.3" height="27.5" fill="#5b4a78" stroke="#8c8c8c" stroke-width="2.2"/>
<circle cx="273.4" cy="1456.8" r="7.2" fill="#5fbf9f" stroke="#8c8c8c" stroke-width="3.2"/>
<circle cx="273.4" cy="1525.2" r="7.2" fill="#8a63b0" stroke="#8c8c8c" stroke-width="3.2"/>
<text x="341.2" y="1469.4" style="font-size:35.5px;" fill="#2b2624">Constructed GRN by CEFCON</text>
<text x="341.2" y="1538.5" style="font-size:35.5px;" fill="#2b2624">Randomized GRN derived from</text>
<text x="341.2" y="1574.9" style="font-size:35.5px;" fill="#2b2624">the prior gene interaction network</text>
<text x="1027.5" y="885.8" style="font-size:48.5px;font-weight:bold;" fill="#2b2624">d</text>
<text x="1079.5" y="917.5" style="font-size:36.3px;letter-spacing:0.45px;" fill="#2b2624">Degree distribution of the constructed GRN of hESC</text>
<line x1="1197.5" y1="941.6" x2="1698" y2="1460.7" stroke="#2b2624" stroke-width="3" stroke-linecap="round"/>
<circle cx="1198.2" cy="985.95" r="8.4" fill="#2e2927"/>
<circle cx="1268.21" cy="974.59" r="8.4" fill="#2e2927"/>
<circle cx="1309.16" cy="962.86" r="8.4" fill="#2e2927"/>
<circle cx="1338.22" cy="965.68" r="8.4" fill="#2e2927"/>
<circle cx="1360.75" cy="957.42" r="8.4" fill="#2e2927"/>
<circle cx="1379.17" cy="970.05" r="8.4" fill="#2e2927"/>
<circle cx="1394.74" cy="1004.43" r="8.4" fill="#2e2927"/>
<circle cx="1408.22" cy="1004.43" r="8.4" fill="#2e2927"/>
<circle cx="1420.12" cy="1056.95" r="8.4" fill="#2e2927"/>
<circle cx="1430.76" cy="1056.95" r="8.4" fill="#2e2927"/>
<circle cx="1440.39" cy="1077.79" r="8.4" fill="#2e2927"/>
<circle cx="1449.18" cy="1124.13" r="8.4" fill="#2e2927"/>
<circle cx="1471.71" cy="1124.13" r="8.4" fill="#2e2927"/>
<circle cx="1457.26" cy="1149.64" r="8.4" fill="#2e2927"/>
<circle cx="1464.74" cy="1182.52" r="8.4" fill="#2e2927"/>
<circle cx="1478.23" cy="1203.36" r="8.4" fill="#2e2927"/>
<circle cx="1484.35" cy="1244.13" r="8.4" fill="#2e2927"/>
<circle cx="1490.13" cy="1244.13" r="8.4" fill="#2e2927"/>
<circle cx="1495.59" cy="1261.75" r="8.4" fill="#2e2927"/>
<circle cx="1500.77" cy="1215.4" r="8.4" fill="#2e2927"/>
<circle cx="1527.27" cy="1282.59" r="8.4" fill="#2e2927"/>
<circle cx="1531.08" cy="1282.59" r="8.4" fill="#2e2927"/>
<circle cx="1505.7" cy="1308.09" r="8.4" fill="#2e2927"/>
<circle cx="1519.18" cy="1308.09" r="8.4" fill="#2e2927"/>
<circle cx="1545.03" cy="1308.09" r="8.4" fill="#2e2927"/>
<circle cx="1551.35" cy="1308.09" r="8.4" fill="#2e2927"/>
<circle cx="1593.31" cy="1308.09" r="8.4" fill="#2e2927"/>
<circle cx="1510.4" cy="1340.98" r="8.4" fill="#2e2927"/>
<circle cx="1534.75" cy="1340.98" r="8.4" fill="#2e2927"/>
<circle cx="1541.72" cy="1340.98" r="8.4" fill="#2e2927"/>
<circle cx="1554.36" cy="1340.98" r="8.4" fill="#2e2927"/>
<circle cx="1562.9" cy="1340.98" r="8.4" fill="#2e2927"/>
<circle cx="1606.55" cy="1340.98" r="8.4" fill="#2e2927"/>
<circle cx="1514.88" cy="1387.32" r="8.4" fill="#2e2927"/>
<circle cx="1538.3" cy="1387.32" r="8.4" fill="#2e2927"/>
<circle cx="1565.6" cy="1387.32" r="8.4" fill="#2e2927"/>
<circle cx="1575.7" cy="1387.32" r="8.4" fill="#2e2927"/>
<circle cx="1587.06" cy="1387.32" r="8.4" fill="#2e2927"/>
<circle cx="1597.28" cy="1387.32" r="8.4" fill="#2e2927"/>
<circle cx="1624.37" cy="1387.32" r="8.4" fill="#2e2927"/>
<circle cx="1634.27" cy="1387.32" r="8.4" fill="#2e2927"/>
<circle cx="1523.31" cy="1466.55" r="8.4" fill="#2e2927"/>
<circle cx="1557.29" cy="1466.55" r="8.4" fill="#2e2927"/>
<circle cx="1570.78" cy="1466.55" r="8.4" fill="#2e2927"/>
<circle cx="1584.89" cy="1466.55" r="8.4" fill="#2e2927"/>
<circle cx="1591.27" cy="1466.55" r="8.4" fill="#2e2927"/>
<circle cx="1601.09" cy="1466.55" r="8.4" fill="#2e2927"/>
<circle cx="1611.73" cy="1466.55" r="8.4" fill="#2e2927"/>
<circle cx="1622.87" cy="1466.55" r="8.4" fill="#2e2927"/>
<circle cx="1636.92" cy="1466.55" r="8.4" fill="#2e2927"/>
<circle cx="1648.09" cy="1466.55" r="8.4" fill="#2e2927"/>
<circle cx="1654.9" cy="1466.55" r="8.4" fill="#2e2927"/>
<circle cx="1683.41" cy="1466.55" r="8.4" fill="#2e2927"/>
<circle cx="1692.88" cy="1466.55" r="8.4" fill="#2e2927"/>
<circle cx="1698.74" cy="1466.55" r="8.4" fill="#2e2927"/>
<circle cx="1710.16" cy="1466.55" r="8.4" fill="#2e2927"/>
<circle cx="1715.12" cy="1466.55" r="8.4" fill="#2e2927"/>
<circle cx="1724.91" cy="1466.55" r="8.4" fill="#2e2927"/>
<circle cx="1730.77" cy="1466.55" r="8.4" fill="#2e2927"/>
<circle cx="1740.16" cy="1466.55" r="8.4" fill="#2e2927"/>
<circle cx="1770.86" cy="1466.55" r="8.4" fill="#2e2927"/>
<circle cx="1797.89" cy="1466.55" r="8.4" fill="#2e2927"/>
<circle cx="1808.02" cy="1466.55" r="8.4" fill="#2e2927"/>
<circle cx="1842.08" cy="1466.55" r="8.4" fill="#2e2927"/>
<circle cx="1850.97" cy="1466.55" r="8.4" fill="#2e2927"/>
<circle cx="1862" cy="1466.55" r="8.4" fill="#2e2927"/>
<rect x="1178.2" y="935.2" width="703.8" height="554" fill="none" stroke="#555555" stroke-width="3"/>
<line x1="1162.4" y1="1489.4" x2="1178.2" y2="1489.4" stroke="#555555" stroke-width="2.6" stroke-linecap="butt"/>
<text x="1155.3" y="1505" text-anchor="end" style="font-size:37px;" fill="#2b2624">-7</text>
<line x1="1167.3" y1="1466.54" x2="1178.2" y2="1466.54" stroke="#555555" stroke-width="2.6" stroke-linecap="butt"/>
<line x1="1167.3" y1="1443.68" x2="1178.2" y2="1443.68" stroke="#555555" stroke-width="2.6" stroke-linecap="butt"/>
<line x1="1167.3" y1="1420.82" x2="1178.2" y2="1420.82" stroke="#555555" stroke-width="2.6" stroke-linecap="butt"/>
<line x1="1167.3" y1="1397.96" x2="1178.2" y2="1397.96" stroke="#555555" stroke-width="2.6" stroke-linecap="butt"/>
<line x1="1162.4" y1="1375.1" x2="1178.2" y2="1375.1" stroke="#555555" stroke-width="2.6" stroke-linecap="butt"/>
<text x="1155.3" y="1390.7" text-anchor="end" style="font-size:37px;" fill="#2b2624">-6</text>
<line x1="1167.3" y1="1352.24" x2="1178.2" y2="1352.24" stroke="#555555" stroke-width="2.6" stroke-linecap="butt"/>
<line x1="1167.3" y1="1329.38" x2="1178.2" y2="1329.38" stroke="#555555" stroke-width="2.6" stroke-linecap="butt"/>
<line x1="1167.3" y1="1306.52" x2="1178.2" y2="1306.52" stroke="#555555" stroke-width="2.6" stroke-linecap="butt"/>
<line x1="1167.3" y1="1283.66" x2="1178.2" y2="1283.66" stroke="#555555" stroke-width="2.6" stroke-linecap="butt"/>
<line x1="1162.4" y1="1260.8" x2="1178.2" y2="1260.8" stroke="#555555" stroke-width="2.6" stroke-linecap="butt"/>
<text x="1155.3" y="1276.4" text-anchor="end" style="font-size:37px;" fill="#2b2624">-5</text>
<line x1="1167.3" y1="1237.94" x2="1178.2" y2="1237.94" stroke="#555555" stroke-width="2.6" stroke-linecap="butt"/>
<line x1="1167.3" y1="1215.08" x2="1178.2" y2="1215.08" stroke="#555555" stroke-width="2.6" stroke-linecap="butt"/>
<line x1="1167.3" y1="1192.22" x2="1178.2" y2="1192.22" stroke="#555555" stroke-width="2.6" stroke-linecap="butt"/>
<line x1="1167.3" y1="1169.36" x2="1178.2" y2="1169.36" stroke="#555555" stroke-width="2.6" stroke-linecap="butt"/>
<line x1="1162.4" y1="1146.5" x2="1178.2" y2="1146.5" stroke="#555555" stroke-width="2.6" stroke-linecap="butt"/>
<text x="1155.3" y="1162.1" text-anchor="end" style="font-size:37px;" fill="#2b2624">-4</text>
<line x1="1167.3" y1="1123.64" x2="1178.2" y2="1123.64" stroke="#555555" stroke-width="2.6" stroke-linecap="butt"/>
<line x1="1167.3" y1="1100.78" x2="1178.2" y2="1100.78" stroke="#555555" stroke-width="2.6" stroke-linecap="butt"/>
<line x1="1167.3" y1="1077.92" x2="1178.2" y2="1077.92" stroke="#555555" stroke-width="2.6" stroke-linecap="butt"/>
<line x1="1167.3" y1="1055.06" x2="1178.2" y2="1055.06" stroke="#555555" stroke-width="2.6" stroke-linecap="butt"/>
<line x1="1162.4" y1="1032.2" x2="1178.2" y2="1032.2" stroke="#555555" stroke-width="2.6" stroke-linecap="butt"/>
<text x="1155.3" y="1047.8" text-anchor="end" style="font-size:37px;" fill="#2b2624">-3</text>
<line x1="1167.3" y1="1009.34" x2="1178.2" y2="1009.34" stroke="#555555" stroke-width="2.6" stroke-linecap="butt"/>
<line x1="1167.3" y1="986.48" x2="1178.2" y2="986.48" stroke="#555555" stroke-width="2.6" stroke-linecap="butt"/>
<line x1="1167.3" y1="963.62" x2="1178.2" y2="963.62" stroke="#555555" stroke-width="2.6" stroke-linecap="butt"/>
<line x1="1167.3" y1="940.76" x2="1178.2" y2="940.76" stroke="#555555" stroke-width="2.6" stroke-linecap="butt"/>
<line x1="1198.2" y1="1489.2" x2="1198.2" y2="1505" stroke="#555555" stroke-width="2.7" stroke-linecap="butt"/>
<text x="1198.2" y="1550.2" text-anchor="middle" style="font-size:37px;" fill="#2b2624">0</text>
<line x1="1248.7" y1="1489.2" x2="1248.7" y2="1499.8" stroke="#555555" stroke-width="2.7" stroke-linecap="butt"/>
<line x1="1299.2" y1="1489.2" x2="1299.2" y2="1499.8" stroke="#555555" stroke-width="2.7" stroke-linecap="butt"/>
<line x1="1349.7" y1="1489.2" x2="1349.7" y2="1499.8" stroke="#555555" stroke-width="2.7" stroke-linecap="butt"/>
<line x1="1400.2" y1="1489.2" x2="1400.2" y2="1505" stroke="#555555" stroke-width="2.7" stroke-linecap="butt"/>
<text x="1400.2" y="1550.2" text-anchor="middle" style="font-size:37px;" fill="#2b2624">2</text>
<line x1="1450.7" y1="1489.2" x2="1450.7" y2="1499.8" stroke="#555555" stroke-width="2.7" stroke-linecap="butt"/>
<line x1="1501.2" y1="1489.2" x2="1501.2" y2="1499.8" stroke="#555555" stroke-width="2.7" stroke-linecap="butt"/>
<line x1="1551.7" y1="1489.2" x2="1551.7" y2="1499.8" stroke="#555555" stroke-width="2.7" stroke-linecap="butt"/>
<line x1="1602.2" y1="1489.2" x2="1602.2" y2="1505" stroke="#555555" stroke-width="2.7" stroke-linecap="butt"/>
<text x="1602.2" y="1550.2" text-anchor="middle" style="font-size:37px;" fill="#2b2624">4</text>
<line x1="1652.7" y1="1489.2" x2="1652.7" y2="1499.8" stroke="#555555" stroke-width="2.7" stroke-linecap="butt"/>
<line x1="1703.2" y1="1489.2" x2="1703.2" y2="1499.8" stroke="#555555" stroke-width="2.7" stroke-linecap="butt"/>
<line x1="1753.7" y1="1489.2" x2="1753.7" y2="1499.8" stroke="#555555" stroke-width="2.7" stroke-linecap="butt"/>
<line x1="1804.2" y1="1489.2" x2="1804.2" y2="1505" stroke="#555555" stroke-width="2.7" stroke-linecap="butt"/>
<text x="1804.2" y="1550.2" text-anchor="middle" style="font-size:37px;" fill="#2b2624">6</text>
<line x1="1854.7" y1="1489.2" x2="1854.7" y2="1499.8" stroke="#555555" stroke-width="2.7" stroke-linecap="butt"/>
<text x="1530.3" y="1596.1" text-anchor="middle" style="font-size:43px;" fill="#2b2624">log k</text>
<text transform="translate(1078.9,1214.2) rotate(-90)" text-anchor="middle" style="font-size:43px;" fill="#2b2624">log P(k)</text>
<text x="1498" y="985.2" style="font-size:28.2px;letter-spacing:0.35px;" fill="#2b2624">Num. of genes: 905</text>
<text x="1498" y="1016.4" style="font-size:28.2px;letter-spacing:0.3px;" fill="#2b2624">Num. of edges: 7373</text>
<text x="1498" y="1076.3" style="font-size:28.2px;letter-spacing:0.3px;" fill="#2b2624">Clustering coefficient: 0.4935</text>
<text x="1498.0" y="1047" style="font-size:28.2px;letter-spacing:0.12px" fill="#2b2624">Slope: -0.9171, <tspan style="font-style:italic">R</tspan><tspan dy="-12" style="font-size:19.5px">2</tspan><tspan dy="12" style="font-style:italic">:</tspan> 0.7294</text>
<rect x="1220.6" y="1276.8" width="226.6" height="173.7" fill="#ffffff" stroke="#7a7a7a" stroke-width="1.3"/>
<line x1="1230" y1="1277.6" x2="1396.9" y2="1440.4" stroke="#2b2624" stroke-width="1.6" stroke-linecap="butt"/>
<circle cx="1227.4" cy="1341.3" r="3.1" fill="#2e2927"/>
<circle cx="1251.6" cy="1327.4" r="3.1" fill="#2e2927"/>
<circle cx="1265.3" cy="1299.1" r="3.1" fill="#2e2927"/>
<circle cx="1275.1" cy="1293.5" r="3.1" fill="#2e2927"/>
<circle cx="1282.9" cy="1293.1" r="3.1" fill="#2e2927"/>
<circle cx="1289.6" cy="1295" r="3.1" fill="#2e2927"/>
<circle cx="1294.8" cy="1283.9" r="3.1" fill="#2e2927"/>
<circle cx="1299.3" cy="1286.1" r="3.1" fill="#2e2927"/>
<circle cx="1303.8" cy="1286.5" r="3.1" fill="#2e2927"/>
<circle cx="1307.5" cy="1297.7" r="3.1" fill="#2e2927"/>
<circle cx="1310.9" cy="1301.7" r="3.1" fill="#2e2927"/>
<circle cx="1313.4" cy="1312.9" r="3.1" fill="#2e2927"/>
<circle cx="1316.4" cy="1311.4" r="3.1" fill="#2e2927"/>
<circle cx="1319" cy="1328.6" r="3.1" fill="#2e2927"/>
<circle cx="1320.9" cy="1333.8" r="3.1" fill="#2e2927"/>
<circle cx="1326.1" cy="1333.8" r="3.1" fill="#2e2927"/>
<circle cx="1323.4" cy="1360.6" r="3.1" fill="#2e2927"/>
<circle cx="1327.9" cy="1353.9" r="3.1" fill="#2e2927"/>
<circle cx="1332.8" cy="1360.6" r="3.1" fill="#2e2927"/>
<circle cx="1341.8" cy="1364.1" r="3.1" fill="#2e2927"/>
<circle cx="1329.1" cy="1373.6" r="3.1" fill="#2e2927"/>
<circle cx="1331.3" cy="1373.6" r="3.1" fill="#2e2927"/>
<circle cx="1334.3" cy="1379" r="3.1" fill="#2e2927"/>
<circle cx="1336.5" cy="1379" r="3.1" fill="#2e2927"/>
<circle cx="1343.3" cy="1379" r="3.1" fill="#2e2927"/>
<circle cx="1337.3" cy="1386" r="3.1" fill="#2e2927"/>
<circle cx="1341" cy="1386" r="3.1" fill="#2e2927"/>
<circle cx="1348.5" cy="1393.7" r="3.1" fill="#2e2927"/>
<circle cx="1344" cy="1418.5" r="3.1" fill="#2e2927"/>
<circle cx="1351.8" cy="1418.5" r="3.1" fill="#2e2927"/>
<circle cx="1360.1" cy="1418.5" r="3.1" fill="#2e2927"/>
<circle cx="1376.8" cy="1418.5" r="3.1" fill="#2e2927"/>
<circle cx="1385.5" cy="1418.5" r="3.1" fill="#2e2927"/>
<circle cx="1338.8" cy="1443.4" r="3.1" fill="#2e2927"/>
<circle cx="1347.9" cy="1443.4" r="3.1" fill="#2e2927"/>
<circle cx="1350.63" cy="1443.4" r="3.1" fill="#2e2927"/>
<circle cx="1353.36" cy="1443.4" r="3.1" fill="#2e2927"/>
<circle cx="1356.09" cy="1443.4" r="3.1" fill="#2e2927"/>
<circle cx="1358.82" cy="1443.4" r="3.1" fill="#2e2927"/>
<circle cx="1361.55" cy="1443.4" r="3.1" fill="#2e2927"/>
<circle cx="1364.28" cy="1443.4" r="3.1" fill="#2e2927"/>
<circle cx="1367.01" cy="1443.4" r="3.1" fill="#2e2927"/>
<circle cx="1369.74" cy="1443.4" r="3.1" fill="#2e2927"/>
<circle cx="1372.47" cy="1443.4" r="3.1" fill="#2e2927"/>
<circle cx="1375.2" cy="1443.4" r="3.1" fill="#2e2927"/>
<circle cx="1387.5" cy="1443.4" r="3.1" fill="#2e2927"/>
<circle cx="1396.3" cy="1443.4" r="3.1" fill="#2e2927"/>
<circle cx="1398.37" cy="1443.4" r="3.1" fill="#2e2927"/>
<circle cx="1400.44" cy="1443.4" r="3.1" fill="#2e2927"/>
<circle cx="1402.51" cy="1443.4" r="3.1" fill="#2e2927"/>
<circle cx="1404.58" cy="1443.4" r="3.1" fill="#2e2927"/>
<circle cx="1406.65" cy="1443.4" r="3.1" fill="#2e2927"/>
<circle cx="1408.72" cy="1443.4" r="3.1" fill="#2e2927"/>
<circle cx="1423" cy="1443.4" r="3.1" fill="#2e2927"/>
<circle cx="1426.44" cy="1443.4" r="3.1" fill="#2e2927"/>
<circle cx="1429.88" cy="1443.4" r="3.1" fill="#2e2927"/>
<circle cx="1433.32" cy="1443.4" r="3.1" fill="#2e2927"/>
<circle cx="1436.76" cy="1443.4" r="3.1" fill="#2e2927"/>
<circle cx="1440.2" cy="1443.4" r="3.1" fill="#2e2927"/>
<line x1="1216.3" y1="1287.08" x2="1220.6" y2="1287.08" stroke="#6a6a6a" stroke-width="1.3" stroke-linecap="butt"/>
<line x1="1216.3" y1="1305.15" x2="1220.6" y2="1305.15" stroke="#6a6a6a" stroke-width="1.3" stroke-linecap="butt"/>
<line x1="1216.3" y1="1323.22" x2="1220.6" y2="1323.22" stroke="#6a6a6a" stroke-width="1.3" stroke-linecap="butt"/>
<line x1="1214.3" y1="1341.3" x2="1220.6" y2="1341.3" stroke="#6a6a6a" stroke-width="1.3" stroke-linecap="butt"/>
<line x1="1216.3" y1="1359.38" x2="1220.6" y2="1359.38" stroke="#6a6a6a" stroke-width="1.3" stroke-linecap="butt"/>
<line x1="1216.3" y1="1377.45" x2="1220.6" y2="1377.45" stroke="#6a6a6a" stroke-width="1.3" stroke-linecap="butt"/>
<line x1="1216.3" y1="1395.52" x2="1220.6" y2="1395.52" stroke="#6a6a6a" stroke-width="1.3" stroke-linecap="butt"/>
<line x1="1214.3" y1="1413.6" x2="1220.6" y2="1413.6" stroke="#6a6a6a" stroke-width="1.3" stroke-linecap="butt"/>
<line x1="1216.3" y1="1431.67" x2="1220.6" y2="1431.67" stroke="#6a6a6a" stroke-width="1.3" stroke-linecap="butt"/>
<line x1="1216.3" y1="1449.75" x2="1220.6" y2="1449.75" stroke="#6a6a6a" stroke-width="1.3" stroke-linecap="butt"/>
<text x="1214.2" y="1352.5" text-anchor="end" style="font-size:28.8px;" fill="#2b2624">-4</text>
<text x="1214.2" y="1424.8" text-anchor="end" style="font-size:28.8px;" fill="#2b2624">-6</text>
<line x1="1227.4" y1="1450.5" x2="1227.4" y2="1456.8" stroke="#6a6a6a" stroke-width="1.3" stroke-linecap="butt"/>
<text x="1228" y="1482.6" text-anchor="middle" style="font-size:28.8px;" fill="#2b2624">0</text>
<line x1="1244.74" y1="1450.5" x2="1244.74" y2="1454.2" stroke="#6a6a6a" stroke-width="1.3" stroke-linecap="butt"/>
<line x1="1262.07" y1="1450.5" x2="1262.07" y2="1454.2" stroke="#6a6a6a" stroke-width="1.3" stroke-linecap="butt"/>
<line x1="1279.41" y1="1450.5" x2="1279.41" y2="1454.2" stroke="#6a6a6a" stroke-width="1.3" stroke-linecap="butt"/>
<line x1="1296.74" y1="1450.5" x2="1296.74" y2="1456.8" stroke="#6a6a6a" stroke-width="1.3" stroke-linecap="butt"/>
<text x="1297.34" y="1482.6" text-anchor="middle" style="font-size:28.8px;" fill="#2b2624">2</text>
<line x1="1314.08" y1="1450.5" x2="1314.08" y2="1454.2" stroke="#6a6a6a" stroke-width="1.3" stroke-linecap="butt"/>
<line x1="1331.41" y1="1450.5" x2="1331.41" y2="1454.2" stroke="#6a6a6a" stroke-width="1.3" stroke-linecap="butt"/>
<line x1="1348.75" y1="1450.5" x2="1348.75" y2="1454.2" stroke="#6a6a6a" stroke-width="1.3" stroke-linecap="butt"/>
<line x1="1366.08" y1="1450.5" x2="1366.08" y2="1456.8" stroke="#6a6a6a" stroke-width="1.3" stroke-linecap="butt"/>
<text x="1366.68" y="1482.6" text-anchor="middle" style="font-size:28.8px;" fill="#2b2624">4</text>
<line x1="1383.42" y1="1450.5" x2="1383.42" y2="1454.2" stroke="#6a6a6a" stroke-width="1.3" stroke-linecap="butt"/>
<line x1="1400.75" y1="1450.5" x2="1400.75" y2="1454.2" stroke="#6a6a6a" stroke-width="1.3" stroke-linecap="butt"/>
<line x1="1418.09" y1="1450.5" x2="1418.09" y2="1454.2" stroke="#6a6a6a" stroke-width="1.3" stroke-linecap="butt"/>
<line x1="1435.42" y1="1450.5" x2="1435.42" y2="1456.8" stroke="#6a6a6a" stroke-width="1.3" stroke-linecap="butt"/>
<text x="1436.02" y="1482.6" text-anchor="middle" style="font-size:28.8px;" fill="#2b2624">6</text>
<text x="1197.6" y="1206" style="font-size:28px;letter-spacing:0px;" fill="#2b2624">Slope: -0.9391</text>
<text x="1197.6" y="1237.3" style="font-size:28px;letter-spacing:0px" fill="#2b2624"><tspan style="font-style:italic">R</tspan><tspan dy="-12" style="font-size:19.5px">2</tspan><tspan dy="12" style="font-style:italic">:</tspan> 0.6481</text>
<text x="1197.6" y="1266.1" style="font-size:28px;letter-spacing:0.15px;" fill="#2b2624">Clus. coef.: 0.2300</text>
</svg>
</body></html>
